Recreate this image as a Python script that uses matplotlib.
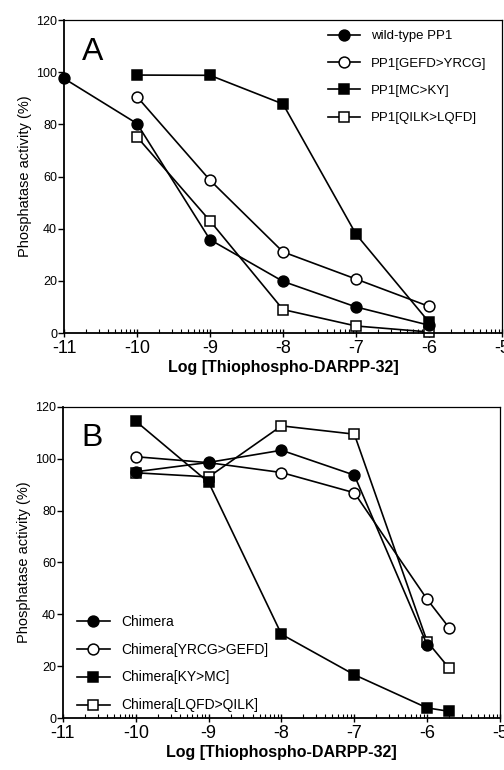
import numpy as np
import matplotlib
matplotlib.use("Agg")
import matplotlib.pyplot as plt
from matplotlib.ticker import FixedLocator

plt.rcParams['font.family'] = ['Liberation Sans', 'DejaVu Sans']
plt.rcParams['axes.unicode_minus'] = False

# Panel A data
xA = [-11, -10, -9, -8, -7, -6]
wt_pp1 = [97.6, 80.3, 35.8, 19.8, 10.0, 3.0]
x_gefd = [-10, -9, -8, -7, -6]
gefd_yrcg = [90.6, 58.6, 31.1, 20.7, 10.2]
mc_ky = [98.9, 98.8, 87.8, 37.9, 4.2]
qilk_lqfd = [75.2, 43.0, 9.0, 2.7, 0.4]
labelsA = ["wild-type PP1", "PP1[GEFD>YRCG]", "PP1[MC>KY]", "PP1[QILK>LQFD]"]

# Panel B data
x_chim = [-10, -9, -8, -7, -6]
chimera = [95.0, 98.6, 103.3, 93.7, 28.2]
xB = [-10, -9, -8, -7, -6, -5.7]
yrcg_gefd = [100.8, 98.5, 94.7, 86.9, 45.8, 34.9]
ky_mc = [114.5, 90.9, 32.3, 16.7, 3.9, 2.6]
lqfd_qilk = [94.6, 93.0, 112.7, 109.5, 29.5, 19.3]
labelsB = ["Chimera", "Chimera[YRCG>GEFD]", "Chimera[KY>MC]", "Chimera[LQFD>QILK]"]

xticks = [-11, -10, -9, -8, -7, -6, -5]
yticks = [0, 20, 40, 60, 80, 100, 120]

fig = plt.figure(figsize=(5.04, 7.7), dpi=100)
axA = fig.add_axes([0.127, 0.5675, 0.869, 0.4065])
axB = fig.add_axes([0.125, 0.0675, 0.867, 0.404])

ms_c = 7.8
ms_s = 7
lw = 1.2
def style(ax):
    ax.set_xlim(-11, -5)
    ax.set_ylim(0, 120)
    ax.set_xticks(xticks)
    ax.set_yticks(yticks)
    minors = []
    for d in range(-11, -5):
        for k in range(2, 10):
            minors.append(d + np.log10(k))
    ax.xaxis.set_minor_locator(FixedLocator(minors))
    ax.tick_params(axis='x', which='major', direction='inout', length=6, width=1, labelsize=13, pad=2)
    ax.tick_params(axis='x', which='minor', direction='in', length=3, width=0.8)
    ax.tick_params(axis='y', which='major', direction='out', length=4, width=1, labelsize=9, pad=1)
    for s in ax.spines.values():
        s.set_linewidth(0.9)
    ax.spines['left'].set_linewidth(1.3)
    ax.spines['bottom'].set_linewidth(1.3)
    ax.set_xlabel("Log [Thiophospho-DARPP-32]", fontsize=11.5, fontweight='bold', labelpad=2)
    ax.set_ylabel("Phosphatase activity (%)", fontsize=10.5, labelpad=3)

kw = dict(color='black', linewidth=lw, markeredgewidth=1.1, clip_on=False)
lA = []
lA.append(axA.plot(xA, wt_pp1, marker='o', markersize=ms_c, markerfacecolor='black', zorder=4, **kw)[0])
lA.append(axA.plot(x_gefd, gefd_yrcg, marker='o', markersize=ms_c, markerfacecolor='white', zorder=3, **kw)[0])
lA.append(axA.plot(x_gefd, mc_ky, marker='s', markersize=ms_s, markerfacecolor='black', zorder=5, **kw)[0])
lA.append(axA.plot(x_gefd, qilk_lqfd, marker='s', markersize=ms_s, markerfacecolor='white', zorder=2, **kw)[0])
style(axA)
axA.text(-10.75, 107.7, "A", fontsize=23, ha='left', va='center')
axA.legend(lA, labelsA, loc='upper right', bbox_to_anchor=(0.991, 1.006), frameon=False,
           fontsize=9.5, handlelength=2.4, handletextpad=0.8, labelspacing=1.15)

lB = []
lB.append(axB.plot(x_chim, chimera, marker='o', markersize=ms_c, markerfacecolor='black', zorder=4, **kw)[0])
lB.append(axB.plot(xB, yrcg_gefd, marker='o', markersize=ms_c, markerfacecolor='white', zorder=3, **kw)[0])
lB.append(axB.plot(xB, ky_mc, marker='s', markersize=ms_s, markerfacecolor='black', zorder=5, **kw)[0])
lB.append(axB.plot(xB, lqfd_qilk, marker='s', markersize=ms_s, markerfacecolor='white', zorder=2, **kw)[0])
style(axB)
axB.text(-10.75, 108, "B", fontsize=23, ha='left', va='center')
axB.legend(lB, labelsB, loc='lower left', bbox_to_anchor=(0.003, -0.022), frameon=False,
           fontsize=10, handlelength=2.4, handletextpad=0.8, labelspacing=1.0)

fig.savefig("out.png", dpi=100)
